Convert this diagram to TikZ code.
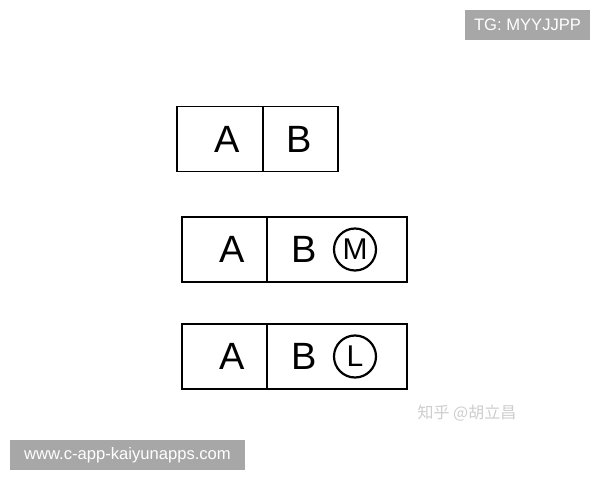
\documentclass[tikz,border=0pt]{standalone}
\usepackage{fontspec}
\setmainfont{Liberation Sans}
\newfontfamily\cjk{Noto Sans CJK SC}
\usetikzlibrary{positioning}
\definecolor{tagbg}{RGB}{167,167,167}
\definecolor{markgray}{RGB}{205,205,205}
\tikzset{
cell/.style={draw, line width=0.9pt, inner sep=0pt, outer sep=0pt, minimum height=32.5pt},
letter/.style={font=\fontsize{19}{19}\selectfont},
modifier/.style={draw, circle, line width=1.1pt, inner sep=0pt, minimum size=21pt, font=\fontsize{15}{15}\selectfont},
tag/.style={fill=tagbg, text=white, inner sep=0pt, font=\fontsize{8.3}{8.3}\selectfont}}

\begin{document}
\begin{tikzpicture}[x=0.5pt, y=-0.5pt]
    \useasboundingbox (0,0) rectangle (600,480);

                % first frame: A | B
                \node[cell, minimum width=43pt] (A1) at (220,139) {};
                \node[cell, minimum width=37.5pt, right=0pt of A1] (B1) {};
                \node[letter] (a1) at (227,139) {A};
                \node[letter] (b1) at (299,139) {B};

                % second frame: A | B (M)
                \node[cell, minimum width=42.5pt] (A2) at (224.5,249.5) {};
                \node[cell, minimum width=70pt, right=0pt of A2] (B2) {};
                \node[letter] (a2) at (232,249.5) {A};
                \node[letter] (b2) at (304,249.5) {B};
                \node[modifier] (m2) at (355,249.5) {M};

                % third frame: A | B (L)
                \node[cell, minimum width=42.5pt] (A3) at (224.5,356.5) {};
                \node[cell, minimum width=70pt, right=0pt of A3] (B3) {};
                \node[letter] (a3) at (232,356.5) {A};
                \node[letter] (b3) at (304,356.5) {B};
                \node[modifier] (l3) at (355,356.5) {L};

                % watermarks
                \node[tag, minimum width=62.5pt, minimum height=15pt] (tg) at (527.5,25) {TG: MYYJJPP};
                \node[tag, minimum width=117.5pt, minimum height=15pt] (url) at (127.5,455) {www.c-app-kaiyunapps.com};
                \node[text=markgray, font=\cjk\fontsize{8}{8}\selectfont] (zh) at (467,413) {知乎 @胡立昌};

\end{tikzpicture}
\end{document}
